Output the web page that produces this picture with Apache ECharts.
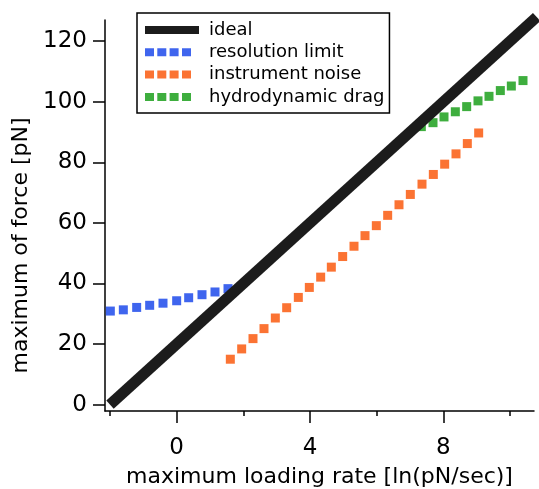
<!DOCTYPE html>
<html>
<head>
<meta charset="utf-8">
<script src="https://cdn.jsdelivr.net/npm/echarts@6/dist/echarts.min.js"></script>
<style>html,body{margin:0;padding:0;background:#fff}#c{width:539px;height:489px}</style>
</head>
<body>
<div id="c"></div>
<script>
var seriesNames = ['ideal', 'resolution limit', 'instrument noise', 'hydrodynamic drag'];
var idealX = [-2, 10.8];
var idealY = [0, 128];
var resX = [-1.99, -1.6, -1.2, -0.81, -0.41, 0.0, 0.36, 0.76, 1.15, 1.54];
var resY = [30.9, 31.3, 32.1, 32.8, 33.5, 34.3, 35.3, 36.3, 37.2, 38.3];
var noiseX = [1.61, 1.95, 2.29, 2.62, 2.96, 3.30, 3.65, 3.98, 4.32, 4.64, 4.98, 5.32, 5.65, 5.99, 6.33, 6.67, 7.01, 7.36, 7.70, 8.04, 8.38, 8.72, 9.06];
var noiseY = [15.0, 18.4, 21.8, 25.1, 28.6, 32.0, 35.4, 38.7, 42.1, 45.4, 48.9, 52.3, 55.8, 59.1, 62.5, 66.0, 69.4, 72.8, 76.0, 79.4, 82.8, 86.2, 89.7];
var dragX = [7.34, 7.69, 8.02, 8.36, 8.70, 9.04, 9.37, 9.71, 10.04, 10.39];
var dragY = [91.8, 93.1, 95.0, 96.7, 98.4, 100.3, 101.8, 103.7, 105.2, 107.0];
var yTicks = [0, 20, 40, 60, 80, 100, 120];
var xMajorTicks = [0, 4, 8];
var xMinorTicks = [-2, 2, 6, 10];
var xTitle = 'maximum loading rate [ln(pN/sec)]';
var yTitle = 'maximum of force [pN]';

function zip(a, b) { return a.map(function (v, i) { return [v, b[i]]; }); }

var FONT = 'DejaVu Sans';
var sq = 'path://M0,0h9v9h-9z M12.3,0h9v9h-9z M24.6,0h9v9h-9z M37,0h9v9h-9z M54,9';
var chart = echarts.init(document.getElementById('c'));
chart.setOption({
  animation: false,
  backgroundColor: '#fff',
  grid: { left: 105, top: 20, right: 5, bottom: 78, containLabel: false, outerBoundsMode: 'none' },
  legend: {
    left: 137, top: 13,
    orient: 'vertical',
    itemWidth: 54, itemHeight: 8, itemGap: 4.3,
    padding: [8, 5, 7, 8],
    borderColor: '#000', borderWidth: 1.5,
    symbolKeepAspect: false,
    textStyle: { fontFamily: FONT, fontSize: 18, color: '#000', lineHeight: 18, padding: [0, 0, 0, 5] },
    data: [
      { name: seriesNames[0], icon: 'path://M0,0H54V8H0Z' },
      { name: seriesNames[1], icon: sq },
      { name: seriesNames[2], icon: sq },
      { name: seriesNames[3], icon: sq }
    ]
  },
  xAxis: [{
    type: 'value', min: -2.15, max: 10.72,
    splitLine: { show: false },
    axisLine: { onZero: false, lineStyle: { color: '#000', width: 1.5 } },
    axisTick: { customValues: xMajorTicks, length: 12, lineStyle: { color: '#000', width: 1.5 } },
    axisLabel: { customValues: xMajorTicks, fontFamily: FONT, fontSize: 23, color: '#000', margin: 26 },
    name: xTitle, nameLocation: 'middle', nameGap: 55,
    nameTextStyle: { fontFamily: FONT, fontSize: 22, color: '#000' }
  }, {
    type: 'value', min: -2.15, max: 10.72, position: 'bottom',
    splitLine: { show: false },
    axisLine: { show: false, onZero: false },
    axisTick: { customValues: xMinorTicks, length: 5, lineStyle: { color: '#000', width: 1.5 } },
    axisLabel: { show: false }
  }],
  yAxis: {
    type: 'value', min: -2.1, max: 127,
    splitLine: { show: false },
    axisLine: { onZero: false, show: true, lineStyle: { color: '#000', width: 1.5 } },
    axisTick: { show: true, customValues: yTicks, length: 12, lineStyle: { color: '#000', width: 1.5 } },
    axisLabel: { customValues: yTicks, fontFamily: FONT, fontSize: 23, color: '#000', margin: 18 },
    name: yTitle, nameLocation: 'middle', nameGap: 62, nameRotate: 90,
    nameTextStyle: { fontFamily: FONT, fontSize: 22, color: '#000', padding: [0, 60, 0, 0] }
  },
  series: [{
    name: seriesNames[0], type: 'line', data: zip(idealX, idealY),
    showSymbol: false, symbol: 'none', clip: false, z: 5,
    itemStyle: { color: '#1c1c1c' },
    lineStyle: { color: '#1c1c1c', width: 11 }
  }, {
    name: seriesNames[1], type: 'scatter', data: zip(resX, resY),
    symbol: 'rect', symbolSize: 9, z: 2, itemStyle: { color: '#0f3fea' }
  }, {
    name: seriesNames[2], type: 'scatter', data: zip(noiseX, noiseY),
    symbol: 'rect', symbolSize: 9, z: 2, itemStyle: { color: '#fa5000' }
  }, {
    name: seriesNames[3], type: 'scatter', data: zip(dragX, dragY),
    symbol: 'rect', symbolSize: 9, z: 2, itemStyle: { color: '#0e9a0e' }
  }]
});
</script>
</body>
</html>
